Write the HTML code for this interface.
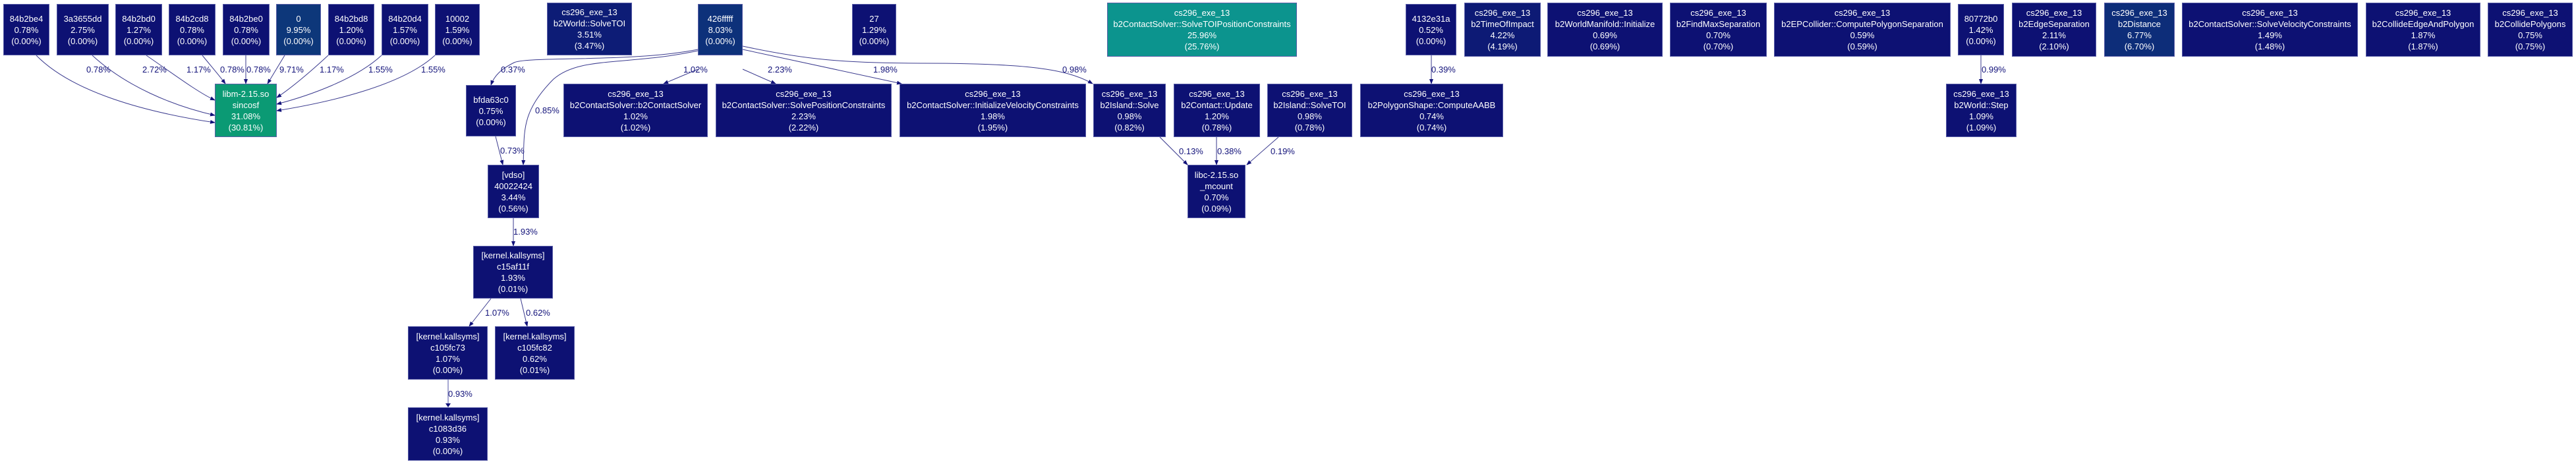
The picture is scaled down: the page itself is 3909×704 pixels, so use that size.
<!DOCTYPE html>
<html><head><meta charset="utf-8"><style>
body{margin:0;width:3909px;height:704px;background:#fff;position:relative;overflow:hidden;font-family:"Liberation Sans",sans-serif;}
.n{position:absolute;box-sizing:border-box;background:#0d1173;border:1px solid #5a5ea8;color:#fff;font-size:13px;line-height:17px;display:flex;flex-direction:column;justify-content:center;align-items:center;text-align:center;white-space:nowrap;}
.l{position:absolute;color:#12127a;font-size:13px;line-height:15px;white-space:nowrap;}
svg{position:absolute;left:0;top:0;}
</style></head><body>
<svg width="3909" height="704" viewBox="0 0 3909 704">
<defs><marker id="a" markerWidth="8" markerHeight="8" refX="7" refY="4" orient="auto" markerUnits="userSpaceOnUse"><path d="M0,1 L8,4 L0,7 z" fill="#12127a"/></marker></defs>
<g fill="none" stroke="#3a3a8e" stroke-width="1" marker-end="url(#a)">
<path d="M55,84 C110,140 220,170 326,186"/>
<path d="M140,84 C190,130 260,160 326,175"/>
<path d="M222,84 C260,110 300,140 326,152"/>
<path d="M307,84 C320,100 333,115 342,127"/>
<path d="M373,84 L373,127"/>
<path d="M432,84 L406,127"/>
<path d="M498,84 C470,110 440,135 420,148"/>
<path d="M579,84 C540,120 470,145 420,158"/>
<path d="M660,84 C610,130 500,155 420,168"/>
<path d="M1059,75 C960,95 800,85 780,95 C760,105 750,115 745,129"/>
<path d="M1059,77 C950,100 880,85 840,120 C790,170 796,200 794,250"/>
<path d="M1059,105 L1007,127"/>
<path d="M1127,105 L1177,127"/>
<path d="M1127,75 L1368,127"/>
<path d="M1127,70 C1220,90 1280,96 1400,96 C1560,96 1620,105 1658,127"/>
<path d="M752,207 L763,250"/>
<path d="M779,331 L779,373"/>
<path d="M745,453 L712,495"/>
<path d="M790,453 L800,495"/>
<path d="M1760,208 L1802,250"/>
<path d="M1846,208 L1846,250"/>
<path d="M1940,208 L1892,250"/>
<path d="M2172,84 L2172,127"/>
<path d="M3006,84 L3006,127"/>
</g>
<path d="M680,576 L680,614" stroke="#a6a8d2" stroke-width="2" fill="none"/>
<path d="M676,612 L680,618 L684,612 z" fill="#12127a"/>
</svg>

<div class="n" style="left:5px;top:6px;width:70px;height:78px">84b2be4<br>0.78%<br>(0.00%)</div>
<div class="n" style="left:86px;top:6px;width:79px;height:78px">3a3655dd<br>2.75%<br>(0.00%)</div>
<div class="n" style="left:175px;top:6px;width:71px;height:78px">84b2bd0<br>1.27%<br>(0.00%)</div>
<div class="n" style="left:256px;top:6px;width:71px;height:78px">84b2cd8<br>0.78%<br>(0.00%)</div>
<div class="n" style="left:338px;top:6px;width:71px;height:78px">84b2be0<br>0.78%<br>(0.00%)</div>
<div class="n" style="left:419px;top:6px;width:68px;height:78px;background:#0d377a">0<br>9.95%<br>(0.00%)</div>
<div class="n" style="left:498px;top:6px;width:70px;height:78px">84b2bd8<br>1.20%<br>(0.00%)</div>
<div class="n" style="left:579px;top:6px;width:71px;height:78px">84b20d4<br>1.57%<br>(0.00%)</div>
<div class="n" style="left:660px;top:6px;width:68px;height:78px">10002<br>1.59%<br>(0.00%)</div>
<div class="n" style="left:830px;top:4px;width:129px;height:80px;background:#0d1c76">cs296_exe_13<br>b2World::SolveTOI<br>3.51%<br>(3.47%)</div>
<div class="n" style="left:1059px;top:6px;width:68px;height:78px;background:#0d317a">426fffff<br>8.03%<br>(0.00%)</div>
<div class="n" style="left:1293px;top:6px;width:67px;height:78px">27<br>1.29%<br>(0.00%)</div>
<div class="n" style="left:1680px;top:4px;width:288px;height:82px;background:#0c948e">cs296_exe_13<br>b2ContactSolver::SolveTOIPositionConstraints<br>25.96%<br>(25.76%)</div>
<div class="n" style="left:2133px;top:6px;width:77px;height:78px">4132e31a<br>0.52%<br>(0.00%)</div>
<div class="n" style="left:2222px;top:4px;width:116px;height:82px;background:#0d1a75">cs296_exe_13<br>b2TimeOfImpact<br>4.22%<br>(4.19%)</div>
<div class="n" style="left:2348px;top:4px;width:175px;height:82px">cs296_exe_13<br>b2WorldManifold::Initialize<br>0.69%<br>(0.69%)</div>
<div class="n" style="left:2534px;top:4px;width:147px;height:82px">cs296_exe_13<br>b2FindMaxSeparation<br>0.70%<br>(0.70%)</div>
<div class="n" style="left:2692px;top:4px;width:268px;height:82px">cs296_exe_13<br>b2EPCollider::ComputePolygonSeparation<br>0.59%<br>(0.59%)</div>
<div class="n" style="left:2971px;top:6px;width:70px;height:78px">80772b0<br>1.42%<br>(0.00%)</div>
<div class="n" style="left:3053px;top:4px;width:128px;height:82px">cs296_exe_13<br>b2EdgeSeparation<br>2.11%<br>(2.10%)</div>
<div class="n" style="left:3193px;top:4px;width:107px;height:82px;background:#0d2d79">cs296_exe_13<br>b2Distance<br>6.77%<br>(6.70%)</div>
<div class="n" style="left:3311px;top:4px;width:267px;height:82px">cs296_exe_13<br>b2ContactSolver::SolveVelocityConstraints<br>1.49%<br>(1.48%)</div>
<div class="n" style="left:3590px;top:4px;width:174px;height:82px">cs296_exe_13<br>b2CollideEdgeAndPolygon<br>1.87%<br>(1.87%)</div>
<div class="n" style="left:3775px;top:4px;width:129px;height:82px">cs296_exe_13<br>b2CollidePolygons<br>0.75%<br>(0.75%)</div>

<div class="n" style="left:326px;top:127px;width:94px;height:81px;background:#0b9a74">libm-2.15.so<br>sincosf<br>31.08%<br>(30.81%)</div>
<div class="n" style="left:707px;top:129px;width:76px;height:78px">bfda63c0<br>0.75%<br>(0.00%)</div>
<div class="n" style="left:855px;top:127px;width:219px;height:81px">cs296_exe_13<br>b2ContactSolver::b2ContactSolver<br>1.02%<br>(1.02%)</div>
<div class="n" style="left:1086px;top:127px;width:267px;height:81px">cs296_exe_13<br>b2ContactSolver::SolvePositionConstraints<br>2.23%<br>(2.22%)</div>
<div class="n" style="left:1365px;top:127px;width:283px;height:81px">cs296_exe_13<br>b2ContactSolver::InitializeVelocityConstraints<br>1.98%<br>(1.95%)</div>
<div class="n" style="left:1659px;top:127px;width:110px;height:81px">cs296_exe_13<br>b2Island::Solve<br>0.98%<br>(0.82%)</div>
<div class="n" style="left:1781px;top:127px;width:131px;height:81px">cs296_exe_13<br>b2Contact::Update<br>1.20%<br>(0.78%)</div>
<div class="n" style="left:1923px;top:127px;width:129px;height:81px">cs296_exe_13<br>b2Island::SolveTOI<br>0.98%<br>(0.78%)</div>
<div class="n" style="left:2064px;top:127px;width:217px;height:81px">cs296_exe_13<br>b2PolygonShape::ComputeAABB<br>0.74%<br>(0.74%)</div>
<div class="n" style="left:2953px;top:127px;width:107px;height:81px">cs296_exe_13<br>b2World::Step<br>1.09%<br>(1.09%)</div>

<div class="n" style="left:740px;top:250px;width:78px;height:81px">[vdso]<br>40022424<br>3.44%<br>(0.56%)</div>
<div class="n" style="left:1802px;top:250px;width:88px;height:81px">libc-2.15.so<br>_mcount<br>0.70%<br>(0.09%)</div>
<div class="n" style="left:718px;top:373px;width:121px;height:80px">[kernel.kallsyms]<br>c15af11f<br>1.93%<br>(0.01%)</div>
<div class="n" style="left:619px;top:495px;width:121px;height:81px">[kernel.kallsyms]<br>c105fc73<br>1.07%<br>(0.00%)</div>
<div class="n" style="left:751px;top:495px;width:121px;height:81px">[kernel.kallsyms]<br>c105fc82<br>0.62%<br>(0.01%)</div>
<div class="n" style="left:619px;top:618px;width:121px;height:81px">[kernel.kallsyms]<br>c1083d36<br>0.93%<br>(0.00%)</div>

<div class="l" style="left:131px;top:98px">0.78%</div>
<div class="l" style="left:216px;top:98px">2.72%</div>
<div class="l" style="left:283px;top:98px">1.17%</div>
<div class="l" style="left:334px;top:98px">0.78%</div>
<div class="l" style="left:374px;top:98px">0.78%</div>
<div class="l" style="left:424px;top:98px">9.71%</div>
<div class="l" style="left:485px;top:98px">1.17%</div>
<div class="l" style="left:559px;top:98px">1.55%</div>
<div class="l" style="left:639px;top:98px">1.55%</div>
<div class="l" style="left:760px;top:98px">0.37%</div>
<div class="l" style="left:812px;top:160px">0.85%</div>
<div class="l" style="left:759px;top:221px">0.73%</div>
<div class="l" style="left:779px;top:344px">1.93%</div>
<div class="l" style="left:736px;top:467px">1.07%</div>
<div class="l" style="left:798px;top:467px">0.62%</div>
<div class="l" style="left:680px;top:590px">0.93%</div>
<div class="l" style="left:1037px;top:98px">1.02%</div>
<div class="l" style="left:1165px;top:98px">2.23%</div>
<div class="l" style="left:1325px;top:98px">1.98%</div>
<div class="l" style="left:1612px;top:98px">0.98%</div>
<div class="l" style="left:2172px;top:98px">0.39%</div>
<div class="l" style="left:1789px;top:222px">0.13%</div>
<div class="l" style="left:1847px;top:222px">0.38%</div>
<div class="l" style="left:1928px;top:222px">0.19%</div>
<div class="l" style="left:3007px;top:98px">0.99%</div>
</body></html>
